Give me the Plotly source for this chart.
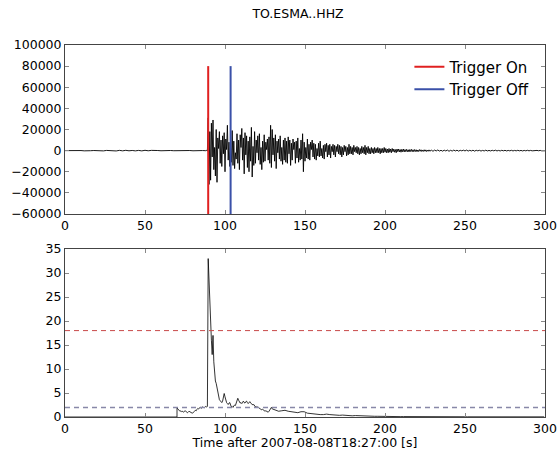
import numpy as np
import plotly.graph_objects as go
from plotly.subplots import make_subplots

TITLE = "TO.ESMA..HHZ"
XLABEL = "Time after 2007-08-08T18:27:00 [s]"

# ---- seismogram (counts) ----
# pre-event noise: start 0 s, every 2 s
pre_start, pre_dt = 0.0, 2.0
pre_vals = [0, 120, -150, 80, -100, 60, -200, 150, -80, 100, -120, 300, -250, 180,
            -150, 200, -300, 250, -200, 280, -180, 150, -220, 200, -250, 300, -150,
            220, -180, 100, -120, 150, -200, 120, -100, 80, -60, 50, -40, 100, -150,
            120, -80, 60, -50]
# main event, in thousands of counts: start 88.5 s, every 0.5 s
main_start, main_dt = 88.5, 0.5
main_vals_k = [
    0.3, -0.5, 31, -32, 18, -28, 26, -6, 29, -18, 3, -24, 20, -30, 12, 2, 18, -12, 10, -15,
    14, -3, 17, -20, 11, 1, 24, -9, 8, -15, 2, -11, 19, -14, 9, -17, -2, -8, 16, -12,
    10, -18, 15, 3, 21, -9, 12, -22, 17, -4, 14, -16, 9, -20, 13, -10, 22, -25, 4, -14,
    18, -12, 10, -2, 14, -9, 16, -13, 3, -18, 9, -11, 15, -10, 8, 1, 11, -9, 13, -12,
    24, -16, 20, -4, 12, -10, 15, -17, 9, -2, 11, -8, 14, -10, 3, -13, 10, -9, 12, -11,
    9, -12, 13, -3, 10, -14, 7, -9, 11, 1, 8, -12, 9, -7, 12, -11, 2, -9, 10, -8,
    16, -20, 8, -10, 3, -7, 11, -8, 6, -9, 8, 1, 10, -6, 7, -8, 6, -9, 2, -5,
    7, -6, 9, -5, 2, -7, 5, -8, 6, -1, 7, -6, 5, -4, 6, -7, 4, -1, 6, -4,
    5, -6, 4, -1, 6, -3, 5, -4, 4, -6, 3, -4, 5, -1, 4, -5, 3, -4, 6, -3,
    4, -3, 3, -4, 5, -1, 3, -2, 4, -3, 3, -4, 2, -3, 4, -2, 3, -3, 5, -4,
    3, -2, 4, -3, 2, -3, 3, -2, 2, -3, 3, -2, 2, -2, 3, -2, 2, -3, 2, -2,
    2, -2, 3, -1.5, 2, -2, 1.5, -2, 2, -1.5, 1.5, -2, 2, -1, 1.5, -1.5, 1, -2, 1.5, -1,
    1.5, -1.2, 1, -1.5, 1.2, -1, 1.5, -1.2, 1, -1, 1.2, -1, 0.8, -1.2, 1, -0.8, 1.2, -1, 0.8, -1,
    1, -0.8, 0.8, -1, 0.6, -0.8, 1, -0.6, 0.8, -0.8, 0.6, -0.7, 0.8, -0.6, 0.7, -0.8, 0.5, -0.6, 0.7, -0.5,
]
# coda tail: every 1 s after the main block
tail_dt = 1.0
tail_vals = [400, -600, 500, -300, 600, -400, 300, -500, 400, -300, 500, -600, 300, -400,
             500, -300, 400, -500, 300, -200, 400, -300, 500, -400, 300, -300, 400, -500,
             300, -200, 300, -400, 200, -300, 400, -300, 200, -300, 300, -200, 400, -300,
             200, -300, 300, -200, 300, -300, 200, -200, 300, -300, 200, -200, 300, -200,
             200, -300, 200, -200, 300, -200, 200, -200, 150, -200, 200, -150, 200, -200,
             150, -150, 0]

# ---- STA/LTA characteristic function ----
cft_start, cft_dt = 70.0, 0.5
cft_fine = [
    1.9, 1.6, 1.4, 1.3, 1.2, 1.3, 1.1, 1.2, 1.0, 1.1, 1.3, 1.2, 1.0, 0.9, 1.0, 1.2, 1.1, 1.0, 0.9, 0.8,
    0.9, 1.0, 1.2, 1.4, 1.3, 1.6, 1.8, 1.7, 1.9, 2.0, 1.8, 1.9, 2.1, 2.0, 1.9, 2.1, 2.2, 2.1, 2.2, 33.0,
    28.0, 25.5, 18.5, 16.0, 13.0, 17.0, 11.5, 9.0, 7.5, 7.0, 6.0, 5.0, 4.0, 3.6, 3.4, 3.1, 3.0, 3.3, 4.0, 4.9,
    4.2, 3.4, 3.0, 2.8, 2.6, 2.9, 3.0, 2.5, 2.1, 2.2, 2.0, 2.3, 2.5, 2.4, 2.8, 3.4, 3.9, 3.5, 3.1, 2.9,
    3.0, 2.8, 3.1, 3.3, 3.0, 2.9, 3.2, 3.3, 3.0, 2.8, 3.0, 3.2, 2.9, 2.7, 2.6, 2.5, 2.6, 2.3, 2.1, 2.2,
    2.0, 2.1, 1.9, 1.8, 1.7, 1.6, 1.5, 1.6, 1.4, 1.3, 1.2, 1.3, 1.2, 1.1, 1.0, 1.2, 1.5, 1.8, 2.0, 1.7,
]
cft_coarse_dt = 2.0
cft_coarse = [
    1.5, 1.2, 1.3, 1.4, 1.2, 1.1, 1.0, 0.9, 1.1, 1.1, 0.8, 0.7, 0.6, 0.6, 0.5, 0.5, 0.6, 0.5,
    0.4, 0.4, 0.35, 0.4, 0.3, 0.3, 0.25, 0.3, 0.25, 0.2, 0.2, 0.25, 0.2, 0.15, 0.15, 0.12,
    0.12, 0.1, 0.1, 0.09, 0.1, 0.08, 0.09, 0.08, 0.07, 0.08, 0.07, 0.07, 0.06, 0.07, 0.06,
    0.06, 0.06, 0.05, 0.06, 0.05, 0.05, 0.05, 0.05, 0.05, 0.04, 0.05, 0.04, 0.04, 0.04, 0.04,
    0.04, 0.04, 0.04, 0.03, 0.04, 0.03, 0.03, 0.03, 0.03, 0.03, 0.03, 0.03, 0.03, 0.03, 0.03,
    0.03, 0.03, 0.03, 0.03, 0.03, 0.03, 0.03,
]

trigger_on = [89.5]
trigger_off = [103.5]
thr_on, thr_off = 18.0, 2.0
trig_ymin, trig_ymax = -60000, 80000

# ---- build series ----
t_pre = pre_start + pre_dt * np.arange(len(pre_vals))
t_main = main_start + main_dt * np.arange(len(main_vals_k))
tail_start = t_main[-1] + tail_dt
t_tail = tail_start + tail_dt * np.arange(len(tail_vals))
t_wave = np.concatenate([t_pre, t_main, t_tail])
y_wave = np.concatenate([np.array(pre_vals, float), np.array(main_vals_k) * 1000.0,
                         np.array(tail_vals, float)])
keep = t_wave <= 300
t_wave, y_wave = t_wave[keep], y_wave[keep]

t_cf1 = cft_start + cft_dt * np.arange(len(cft_fine))
t_cf2 = t_cf1[-1] + cft_coarse_dt * (1 + np.arange(len(cft_coarse)))
t_cft = np.concatenate([[0.0, cft_start], t_cf1, t_cf2])
y_cft = np.concatenate([[0.0, 0.0], cft_fine, cft_coarse])
keep = t_cft <= 300
t_cft, y_cft = t_cft[keep], y_cft[keep]

FONT = "DejaVu Sans"
fig = make_subplots(rows=2, cols=1, vertical_spacing=0.0)

fig.add_trace(go.Scatter(x=t_wave, y=y_wave, mode="lines",
                         line=dict(color="black", width=0.9), showlegend=False,
                         hoverinfo="skip"), row=1, col=1)
for i, t in enumerate(trigger_on):
    fig.add_trace(go.Scatter(x=[t, t], y=[trig_ymin, trig_ymax], mode="lines",
                             line=dict(color="#e02020", width=2), name="Trigger On",
                             showlegend=(i == 0)), row=1, col=1)
for i, t in enumerate(trigger_off):
    fig.add_trace(go.Scatter(x=[t, t], y=[trig_ymin, trig_ymax], mode="lines",
                             line=dict(color="#3a50a8", width=2), name="Trigger Off",
                             showlegend=(i == 0)), row=1, col=1)

fig.add_trace(go.Scatter(x=t_cft, y=y_cft, mode="lines",
                         line=dict(color="black", width=0.8), showlegend=False),
              row=2, col=1)
fig.add_trace(go.Scatter(x=[0, 300], y=[thr_on, thr_on], mode="lines",
                         line=dict(color="#c84848", width=1, dash="5px,4px"),
                         showlegend=False), row=2, col=1)
fig.add_trace(go.Scatter(x=[0, 300], y=[thr_off, thr_off], mode="lines",
                         line=dict(color="#8888a8", width=1.5, dash="5px,4px"),
                         showlegend=False), row=2, col=1)

axis_common = dict(showgrid=False, zeroline=False, showline=True, linecolor="#444",
                   linewidth=1, mirror="ticks", ticks="inside", ticklen=4,
                   tickcolor="#888", automargin=False,
                   tickfont=dict(family=FONT, size=12.5, color="black"))

fig.update_xaxes(range=[0, 300], tick0=0, dtick=50, **axis_common)
fig.update_yaxes(tickformat="d", **axis_common)
fig.update_yaxes(range=[-60000, 100000], tick0=-60000, dtick=20000, row=1, col=1,
                 domain=[0.5457, 1.0])
fig.update_yaxes(range=[0, 35], tick0=0, dtick=5, row=2, col=1, domain=[0.0, 0.4516])
fig.update_xaxes(title=dict(text=XLABEL, font=dict(family=FONT, size=12.5, color="black"),
                            standoff=0), row=2, col=1)

fig.update_layout(
    width=557, height=450,
    margin=dict(l=65, r=12, t=45, b=33),
    paper_bgcolor="white", plot_bgcolor="white",
    font=dict(family=FONT, color="black"),
    separators=".",
    title=dict(text=TITLE, x=298 / 557, xanchor="center", y=1 - 14 / 450, yanchor="middle",
               font=dict(family=FONT, size=12.5, color="black")),
    legend=dict(x=0.98, y=0.985, xanchor="right", yanchor="top",
                bgcolor="rgba(0,0,0,0)", borderwidth=0,
                font=dict(family=FONT, size=15, color="black"),
                itemwidth=30, tracegroupgap=0),
    showlegend=True,
)

fig.write_html("out.html")
